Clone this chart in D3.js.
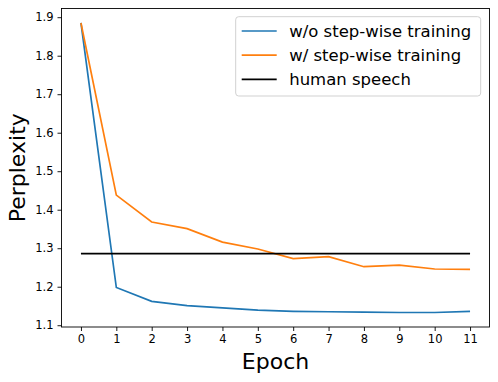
<!DOCTYPE html>
<html>
<head>
<meta charset="utf-8">
<script src="https://cdn.jsdelivr.net/npm/d3@7"></script>
<style>
  body { margin: 0; background: #fff; }
  text { font-family: "DejaVu Sans", sans-serif; fill: #000; }
</style>
</head>
<body>
<div id="chart"></div>
<script>
// Data
const epochs = [0, 1, 2, 3, 4, 5, 6, 7, 8, 9, 10, 11];
const withoutStepwise = [1.885, 1.198, 1.162, 1.151, 1.145, 1.139, 1.136, 1.135, 1.134, 1.133, 1.133, 1.136];
const withStepwise = [1.885, 1.438, 1.368, 1.351, 1.316, 1.298, 1.273, 1.278, 1.252, 1.256, 1.246, 1.245];
const humanSpeech = 1.286;
const yTicks = [1.1, 1.2, 1.3, 1.4, 1.5, 1.6, 1.7, 1.8, 1.9];
const seriesNames = ['w/o step-wise training', 'w/ step-wise training', 'human speech'];
const seriesColors = ['#1f77b4', '#ff7f0e', '#000000'];

const width = 498, height = 382;
const margin = { top: 8.5, right: 8.5, bottom: 55, left: 61.5 };

const svg = d3.select('#chart')
  .append('svg')
  .attr('width', width)
  .attr('height', height);

// matplotlib-style 5% padding
const x = d3.scaleLinear()
  .domain([-0.55, 11.55])
  .range([margin.left, width - margin.right]);

const allVals = withoutStepwise.concat(withStepwise, [humanSpeech]);
const yMin = d3.min(allVals), yMax = d3.max(allVals);
const pad = (yMax - yMin) * 0.05;
const y = d3.scaleLinear()
  .domain([yMin - pad, yMax + pad])
  .range([height - margin.bottom, margin.top]);

// Axes
const xAxis = svg.append('g')
  .attr('transform', `translate(0,${height - margin.bottom})`)
  .call(d3.axisBottom(x).tickValues(epochs).tickSize(4).tickPadding(4).tickFormat(d3.format('d')));

const yAxis = svg.append('g')
  .attr('transform', `translate(${margin.left},0)`)
  .call(d3.axisLeft(y).tickValues(yTicks).tickSize(4).tickPadding(4).tickFormat(d3.format('.1f')));

[xAxis, yAxis].forEach(a => {
  a.select('.domain').remove();
  a.selectAll('.tick line').attr('stroke', '#000').attr('stroke-width', 0.9);
  a.selectAll('.tick text').style('font-size', '11.5px').style('font-family', '"DejaVu Sans", sans-serif');
});

// Lines
const line = d3.line()
  .x((d, i) => x(epochs[i]))
  .y(d => y(d));

svg.append('path')
  .datum(withoutStepwise)
  .attr('d', line)
  .attr('fill', 'none')
  .attr('stroke', seriesColors[0])
  .attr('stroke-width', 1.7);

svg.append('path')
  .datum(withStepwise)
  .attr('d', line)
  .attr('fill', 'none')
  .attr('stroke', seriesColors[1])
  .attr('stroke-width', 1.7);

svg.append('line')
  .attr('x1', x(0))
  .attr('x2', x(11))
  .attr('y1', y(humanSpeech))
  .attr('y2', y(humanSpeech))
  .attr('stroke', seriesColors[2])
  .attr('stroke-width', 1.7);

// Frame
svg.append('rect')
  .attr('x', margin.left)
  .attr('y', margin.top)
  .attr('width', width - margin.left - margin.right)
  .attr('height', height - margin.top - margin.bottom)
  .attr('fill', 'none')
  .attr('stroke', '#000')
  .attr('stroke-width', 0.9);

// Axis labels
svg.append('text')
  .attr('x', (margin.left + width - margin.right) / 2)
  .attr('y', 369.3)
  .attr('text-anchor', 'middle')
  .style('font-size', '22px')
  .text('Epoch');

svg.append('text')
  .attr('transform', `translate(24.5,${(margin.top + height - margin.bottom) / 2}) rotate(-90)`)
  .attr('text-anchor', 'middle')
  .style('font-size', '22px')
  .text('Perplexity');

// Legend
const legend = svg.append('g').attr('transform', 'translate(235.7,16.7)');
legend.append('rect')
  .attr('width', 245)
  .attr('height', 79.3)
  .attr('rx', 3)
  .attr('fill', '#fff')
  .attr('fill-opacity', 0.8)
  .attr('stroke', '#ccc')
  .attr('stroke-width', 0.9);

seriesNames.forEach((name, i) => {
  const row = legend.append('g').attr('transform', `translate(0,${14.3 + i * 24.2})`);
  row.append('line')
    .attr('x1', 6).attr('x2', 41)
    .attr('stroke', seriesColors[i])
    .attr('stroke-width', 1.7);
  row.append('text')
    .attr('x', 53.5)
    .attr('dy', '0.36em')
    .style('font-size', '16.5px')
    .text(name);
});
</script>
</body>
</html>
